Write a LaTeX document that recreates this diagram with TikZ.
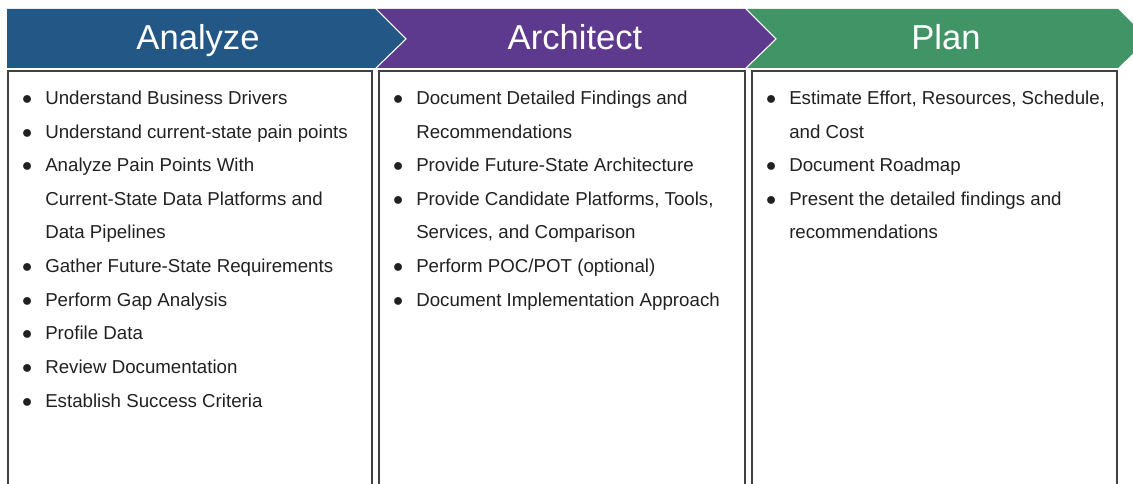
\documentclass[tikz,border=0pt]{standalone}
\usepackage{fontspec}
\setmainfont{Liberation Sans}
\usepackage{enumitem}
\usetikzlibrary{positioning}
\definecolor{stageblue}{RGB}{34,87,134}
\definecolor{stagepurple}{RGB}{94,58,142}
\definecolor{stagegreen}{RGB}{64,148,101}
\definecolor{tasktext}{RGB}{33,33,33}

% bullet list used inside the three panels
\newlist{tasklist}{itemize}{1}
\setlist[tasklist]{label={\makebox[0pt]{$\bullet$}},leftmargin=26.3pt,
  labelwidth=0pt,labelsep=12.8pt,itemsep=0pt,parsep=0pt,topsep=0pt,partopsep=0pt}
\newcommand\taskfont{\fontsize{13.3}{23.9}\selectfont\color{tasktext}}

\begin{document}
\begin{tikzpicture}[
  x=0.025cm, y=-0.025cm,
  title/.style={anchor=base,text=white,inner sep=0pt,
    font=\fontsize{24.6}{29}\selectfont},
  panel/.style={draw=black!75,line width=1pt},
  tasks/.style={anchor=base west,inner sep=0pt}
]
\useasboundingbox (0,0) rectangle (1133,484);
\clip (0,0) rectangle (1133,484);

% chevron headers
\fill[stageblue] (7,9) -- (375,9) -- (405,39) -- (375,68) -- (7,68) -- cycle;
\fill[stagepurple] (377,9) -- (745,9) -- (775,39) -- (745,68) -- (377,68) -- (407,39) -- cycle;
\fill[stagegreen] (747,9) -- (1118,9) -- (1148,39) -- (1118,68) -- (747,68) -- (777,39) -- cycle;

\node[title] (analyze) at (198,50) {Analyze};
\node[title] (architect) at (575,50) {Architect};
\node[title] (plan) at (946,50) {Plan};

% panels below the headers
\draw[panel] (8,71) rectangle (372,500);
\draw[panel] (379,71) rectangle (745,500);
\draw[panel] (752,71) rectangle (1117,500);

\node[tasks] (analyzelist) at (8,91) {\begin{minipage}[t]{9cm}\taskfont
  \begin{tasklist}
  \item Understand Business Drivers
  \item Understand current-state pain points
  \item Analyze Pain Points With\\Current-State Data Platforms and\\Data Pipelines
  \item Gather Future-State Requirements
  \item Perform Gap Analysis
  \item Profile Data
  \item Review Documentation
  \item Establish Success Criteria
  \end{tasklist}\end{minipage}};

\node[tasks] (architectlist) at (379,91) {\begin{minipage}[t]{9cm}\taskfont
  \begin{tasklist}
  \item Document Detailed Findings and\\Recommendations
  \item Provide Future-State Architecture
  \item Provide Candidate Platforms, Tools,\\Services, and Comparison
  \item Perform POC/POT (optional)
  \item Document Implementation Approach
  \end{tasklist}\end{minipage}};

\node[tasks] (planlist) at (752,91) {\begin{minipage}[t]{9cm}\taskfont
  \begin{tasklist}
  \item Estimate Effort, Resources, Schedule,\\and Cost
  \item Document Roadmap
  \item Present the detailed findings and\\recommendations
  \end{tasklist}\end{minipage}};
\end{tikzpicture}
\end{document}
